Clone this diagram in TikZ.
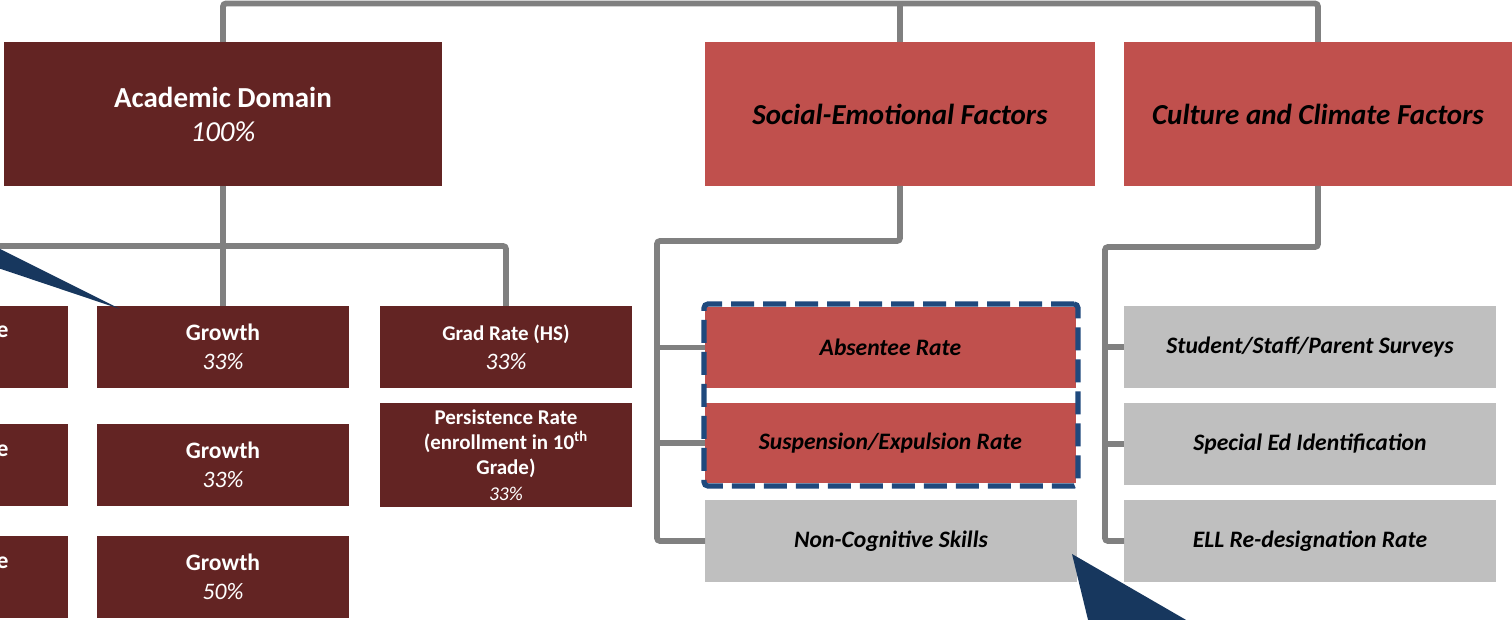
\documentclass[tikz,border=0pt]{standalone}
\usepackage{fontspec}
\setmainfont{Carlito}
\definecolor{maroon}{HTML}{632423}
\definecolor{sred}{HTML}{C0504D}
\definecolor{lgray}{HTML}{BFBFBF}
\definecolor{conngray}{HTML}{808080}
\definecolor{dblue}{HTML}{1F497D}
\definecolor{navy}{HTML}{17375E}
\newcommand\putbox[7]{\node[#6, minimum width={(#4-(#2))*0.5pt}, minimum height={(#5-(#3))*0.5pt}] (#1) at ({(#2+#4)/2},{(#3+#5)/2}) {#7};}
\begin{document}
\begin{tikzpicture}[x=0.5pt,y=-0.5pt,
  box/.style={inner sep=0pt, outer sep=0pt, align=center},
  acadbox/.style={box, fill=maroon, text=white},
  redbox/.style={box, fill=sred, text=black},
  graybox/.style={box, fill=lgray, text=black},
  bigfont/.style={font=\fontsize{14.5}{17}\selectfont\bfseries},
  midfont/.style={font=\fontsize{11.8}{14.5}\selectfont\bfseries},
  smallfont/.style={font=\fontsize{10.5}{14.5}\selectfont\bfseries},
  persfont/.style={font=\fontsize{10.5}{12.7}\selectfont\bfseries},
  connector/.style={draw=conngray, line width=2.9pt, rounded corners=1.5pt},
  hlbox/.style={draw=dblue, line width=2.6pt, dash pattern=on 11.5pt off 4.5pt, rounded corners=2pt, inner sep=0pt, outer sep=0pt},
]
\clip (0,0) rectangle (1512,620);
\fill[white] (0,0) rectangle (1512,620);
% connector anchors
\coordinate (topbar) at (0,3.5);
\coordinate (abar) at (-20,246);
\coordinate (sbar) at (657,241);
\coordinate (cbar) at (1105,247);
% top level boxes
\putbox{acad}{4}{42}{442}{186}{acadbox,bigfont}{Academic Domain\\{\mdseries\itshape 100\%}}
\putbox{soc}{705}{42}{1095}{186}{redbox,bigfont}{\itshape Social-Emotional Factors}
\putbox{cult}{1124}{42}{1512}{186}{redbox,bigfont}{\itshape Culture and Climate Factors}
% academic sub boxes
\putbox{l1}{-200}{306}{68}{388}{acadbox}{}
\putbox{l2}{-200}{424}{68}{506}{acadbox}{}
\putbox{l3}{-200}{536}{68}{618}{acadbox}{}
\node[midfont, text=white, anchor=east, inner sep=0pt] (e1) at (9,332) {e};
\node[midfont, text=white, anchor=east, inner sep=0pt] (e2) at (9,451) {e};
\node[midfont, text=white, anchor=east, inner sep=0pt] (e3) at (9,563) {e};
\putbox{g1}{97}{306}{349}{388}{acadbox,midfont}{Growth\\{\mdseries\itshape 33\%}}
\putbox{g2}{97}{424}{349}{506}{acadbox,midfont}{Growth\\{\mdseries\itshape 33\%}}
\putbox{g3}{97}{536}{349}{618}{acadbox,midfont}{Growth\\{\mdseries\itshape 50\%}}
\putbox{grad}{380}{306}{632}{388}{acadbox,smallfont}{Grad Rate (HS)\\{\fontsize{11.8}{14.5}\selectfont\mdseries\itshape 33\%}}
\putbox{pers}{380}{403}{632}{507}{acadbox,persfont}{Persistence Rate\\(enrollment in 10\textsuperscript{th}\\Grade)\\{\fontsize{9.8}{12.7}\selectfont\mdseries\itshape 33\%}}
% social sub boxes
\putbox{abs}{705}{307}{1076}{388}{redbox,midfont}{\itshape Absentee Rate}
\putbox{sus}{705}{403}{1076}{483}{redbox,midfont}{\itshape Suspension/Expulsion Rate}
\putbox{nonc}{705}{500}{1077}{582}{graybox,midfont}{\itshape Non-Cognitive Skills}
% culture sub boxes
\putbox{surv}{1124}{306}{1496}{388}{graybox,midfont}{\itshape Student/Staff/Parent Surveys}
\putbox{sped}{1124}{403}{1496}{485}{graybox,midfont}{\itshape Special Ed Identification}
\putbox{ell}{1124}{500}{1496}{582}{graybox,midfont}{\itshape ELL Re-designation Rate}
% connectors
\draw[connector] (acad.north) -- (acad.north |- topbar) -| (cult.north);
\draw[connector] (soc.north) -- (soc.north |- topbar);
\draw[connector] (acad.south) -- (g1.north);
\draw[connector] (abar) -| (grad.north);
\draw[connector] (soc.south) |- (sbar) |- (nonc.west);
\draw[connector] (sbar |- abs.west) -- (abs.west);
\draw[connector] (sbar |- sus.west) -- (sus.west);
\draw[connector] (cult.south) |- (cbar) |- (ell.west);
\draw[connector] (cbar |- surv.west) -- (surv.west);
\draw[connector] (cbar |- sped.west) -- (sped.west);
% highlight
\putbox{hl}{704}{304}{1078}{486}{hlbox}{}
% callout wedges
\fill[navy] (-2,248) -- (120,309) -- (-2,268) -- cycle;
\fill[navy] (1072,554) -- (1200,628) -- (1090,628) -- cycle;
\end{tikzpicture}
\end{document}
